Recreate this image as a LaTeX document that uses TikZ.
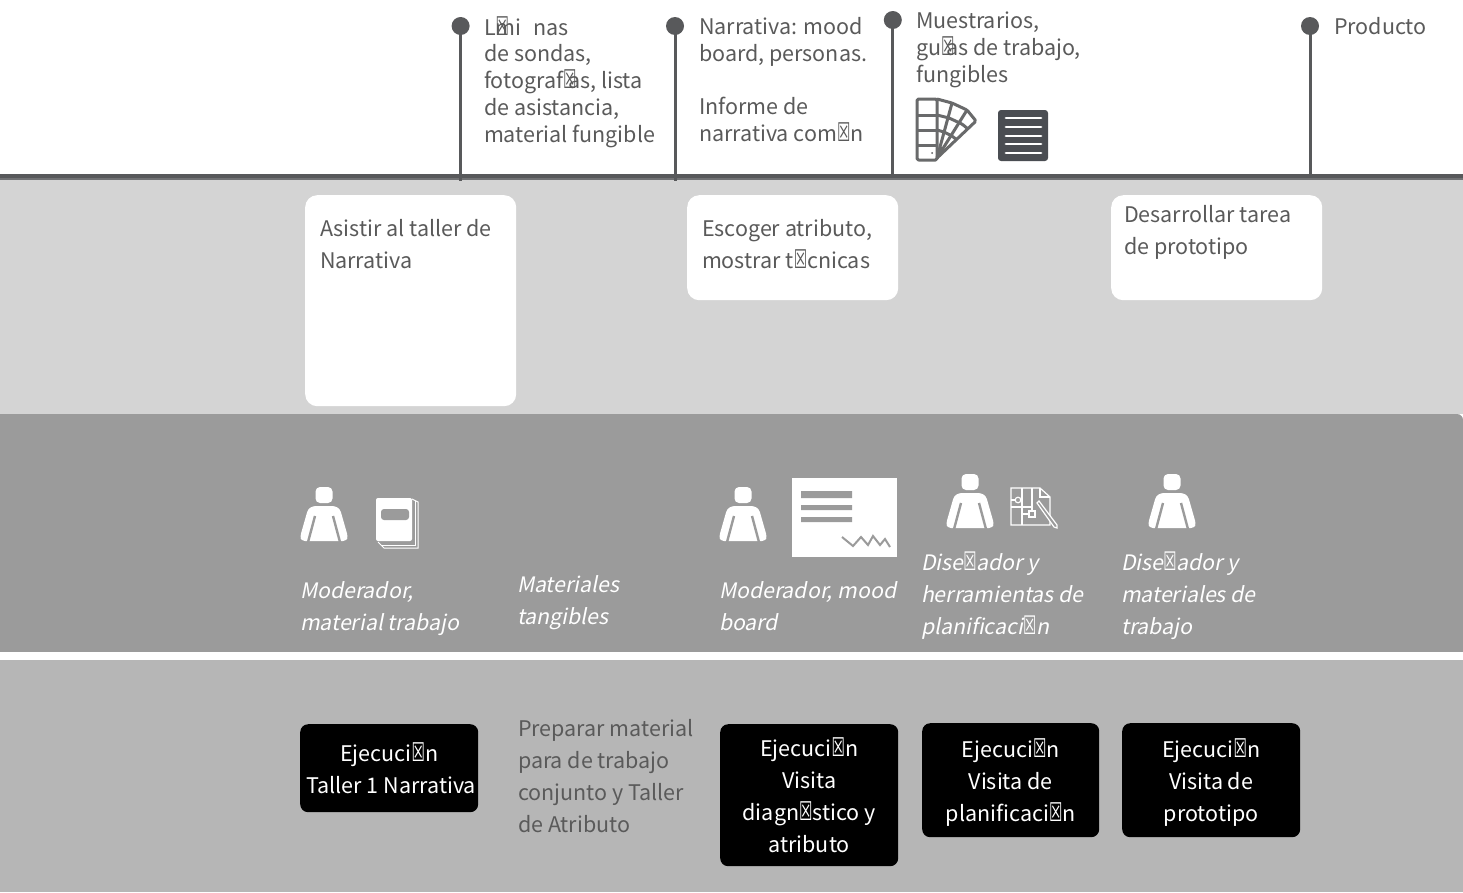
\documentclass[tikz,border=0pt]{standalone}
\usepackage{fontspec}
\setmainfont{Noto Sans CJK SC}
\newfontfamily\slfont[FakeSlant=0.2]{Noto Sans CJK SC}
\newfontfamily\mgfont[FakeStretch=0.58,Scale=1.2]{DejaVu Sans}
\newcommand\mg{{\mgfont\symbol{"2612}}}
\newcommand\mgo[2][0pt]{\makebox[#1][l]{\mg}#2}
\newcommand\fs{\rule{0pt}{18pt}}
\definecolor{ink}{HTML}{58595B}
\definecolor{txt}{HTML}{5A5A5A}
\definecolor{band1}{HTML}{D4D4D4}
\definecolor{band2}{HTML}{9B9B9B}
\definecolor{band3}{HTML}{B6B6B6}
\definecolor{docc}{HTML}{4A4D52}
\tikzset{
 x=1pt,y=-1pt,
 top/.style={anchor=north west,inner sep=0pt,outer sep=0pt,align=left,text=txt,font=\fontsize{21.5}{26.7}\selectfont},
 boxt/.style={anchor=north west,inner sep=0pt,outer sep=0pt,align=left,text=txt,font=\fontsize{21.5}{32}\selectfont},
 ital/.style={anchor=north west,inner sep=0pt,outer sep=0pt,align=left,text=white,font=\fontsize{21.3}{32}\selectfont\slfont},
 card/.style={fill=white,rounded corners=12pt,inner sep=0pt,anchor=north west},
 exec/.style={fill=black,rounded corners=8pt,inner sep=0pt,anchor=north west,text=white,align=center,font=\fontsize{21.5}{32}\selectfont},
 dot/.style={circle,fill=ink,minimum size=18pt,inner sep=0pt},
 stem/.style={draw=ink,line width=3pt},
 person/.pic={
  \fill[white,rounded corners=4.5pt] (-8.5,0) rectangle (8.5,16);
  \fill[white,rounded corners=3pt] (-11,19) -- (11,19) -- (16,22) -- (24,50) -- (22,54) -- (-22,54) -- (-24,50) -- (-16,22) -- cycle;
  \draw[band2,line width=2.4pt] (-9,29) -- (-16.5,57) (9,29) -- (16.5,57);
 },
}
\begin{document}
\begin{tikzpicture}
\useasboundingbox (0,0) rectangle (1463,892);
% bands
\fill[white] (0,0) rectangle (1463,892);
\fill[band1] (0,180) rectangle (1463,414);
\fill[band2,rounded corners=6pt] (1400,414) -- (1463,414) -- (1463,660) -- (1400,660) -- cycle;
\fill[band2] (0,414) rectangle (1440,652);
\fill[band2] (1400,425) rectangle (1463,652);
\fill[white] (0,652) rectangle (1463,660);
\fill[band3] (0,660) rectangle (1463,892);
\fill[ink] (0,174) rectangle (1463,178);
\fill[ink!85] (0,178) rectangle (1463,180);

% timeline
\coordinate (r1) at (460.6,181);
\coordinate (r2) at (675,181);
\coordinate (r3) at (892.8,175);
\coordinate (r4) at (1310,175);
\node[dot] (d1) at (460.6,26) {};
\node[dot] (d2) at (675,26) {};
\node[dot] (d3) at (892.8,20) {};
\node[dot] (d4) at (1310,26) {};
\draw[stem] (d1.center) -- (r1);
\draw[stem] (d2.center) -- (r2);
\draw[stem] (d3.center) -- (r3);
\draw[stem] (d4.center) -- (r4);

\node[top] (t1) at (484,16.4) {\fs L\mgo{m}i\ \ \hspace{2pt}nas\\de sondas,\\fotograf\mgo[5pt]{a}s, lista\\de asistancia,\\material fungible};
\node[top] (t2) at (699,16.4) {\fs Narrativa: mood\\board, personas.\\ \\Informe de\\narrativa com\mg n};
\node[top] (t3) at (916,10.6) {\fs Muestrarios,\\gu\mgo[5pt]{a}s de trabajo,\\fungibles};
\node[top] (t4) at (1334,16.4) {\fs Producto};

% fan icon
\begin{scope}[draw=ink!90,line width=3pt,line join=round,rounded corners=1.5pt]
\draw (917,99) rectangle (937,160);
\draw (917,115) -- (937,115) (917,130) -- (937,130) (917,145) -- (937,145);
\draw (937,99) -- (952,103) -- (967,110) -- (976,121) -- (937,158);
\draw (952,103) -- (937,158) (967,110) -- (937,158);
\draw (937,115) -- (949,118) -- (962,124) -- (968,129);
\draw (937,130) -- (944,132) -- (952,136) -- (957,140);
\end{scope}
\fill[ink] (932,153) circle (1pt);
% document icon
\fill[docc,rounded corners=3pt] (998,110) rectangle (1048,161);
\foreach \yy in {118,127,136,144,153}
  \draw[white,line width=2.8pt,line cap=round] (1006,\yy) -- (1041,\yy);

% cards
\node[card,minimum width=211pt,minimum height=211pt] (c1) at (305,195) {};
\node[card,minimum width=211pt,minimum height=105pt] (c2) at (687,195) {};
\node[card,minimum width=211pt,minimum height=105pt] (c3) at (1111,195) {};
\node[boxt] (ct1) at (320,218) {\fs Asistir al taller de\\Narrativa};
\node[boxt] (ct2) at (702,218) {\fs Escoger atributo,\\mostrar t\mg cnicas};
\node[boxt] (ct3) at (1124,204) {\fs Desarrollar tarea\\de prototipo};

% people
\pic at (324,487) {person};
\pic at (743,487) {person};
\pic at (970,474) {person};
\pic at (1172,474) {person};

% book icon
\draw[white,line width=1pt] (412,499) -- (418,502) -- (418,548) -- (384,548) -- (378,542);
\draw[white,line width=1pt] (415,501) -- (415,545) -- (381,545);
\fill[white,rounded corners=2pt] (376,498) rectangle (412,541);
\fill[band2,rounded corners=3pt] (381,509) rectangle (409,520);

% mood board icon
\fill[white] (792,478) rectangle (897,557);
\fill[band2] (801,491) rectangle (852,498) (801,505) rectangle (852,510) (801,517) rectangle (852,522);
\draw[band2,line width=2pt] (842,537) -- (853,546) -- (861,537) -- (868,545) -- (873,536) -- (880,545) -- (885,539) -- (890,547);

% plan icon
\begin{scope}[white,line width=1.2pt]
\draw (1011,488) -- (1040,488) -- (1050,497) -- (1050,525) -- (1011,525) -- cycle;
\draw (1040,488) -- (1040,497) -- (1050,497);
\draw (1022,488) -- (1022,525) (1011,507) -- (1032,507) (1032,488) -- (1032,511);
\draw (1023,514) -- (1029,514);
\draw (1011,500) -- (1015,500);
\draw[fill=band2] (1018,500) circle (2.8pt);
\draw[fill=band2] (1029,511) rectangle (1035,517);
\draw[fill=band2] (1037,503) -- (1039,501) -- (1057,525) -- (1057,528) -- (1054,527) -- cycle;
\end{scope}

% italic labels
\node[ital] (i1) at (300,580) {\fs Moderador,\\material trabajo};
\node[ital] (i2) at (517,574) {\fs Materiales\\tangibles};
\node[ital] (i3) at (719,580) {\fs Moderador, mood\\board};
\node[ital] (i4) at (921,552) {\fs Dise\mg ador y\\herramientas de\\planificaci\mg n};
\node[ital] (i5) at (1121,552) {\fs Dise\mg ador y\\materiales de\\trabajo};

% bottom row
\node[boxt] (p1) at (518,718) {\fs Preparar material\\para de trabajo\\conjunto y Taller\\de Atributo};
\node[exec,minimum width=178pt,minimum height=88pt] (e1) at (300,724) {Ejecuci\mg n\\\hspace*{4pt}Taller 1 Narrativa};
\node[exec,minimum width=178pt,minimum height=142pt] (e2) at (720,724) {Ejecuci\mg n\\Visita\\diagn\mg stico y\\atributo};
\node[exec,minimum width=177pt,minimum height=114pt] (e3) at (922,723) {\rule{0pt}{24pt}Ejecuci\mg n\\Visita de\\planificaci\mg n};
\node[exec,minimum width=178pt,minimum height=114pt] (e4) at (1122,723) {\rule{0pt}{24pt}Ejecuci\mg n\\Visita de\\prototipo};
\end{tikzpicture}
\end{document}
